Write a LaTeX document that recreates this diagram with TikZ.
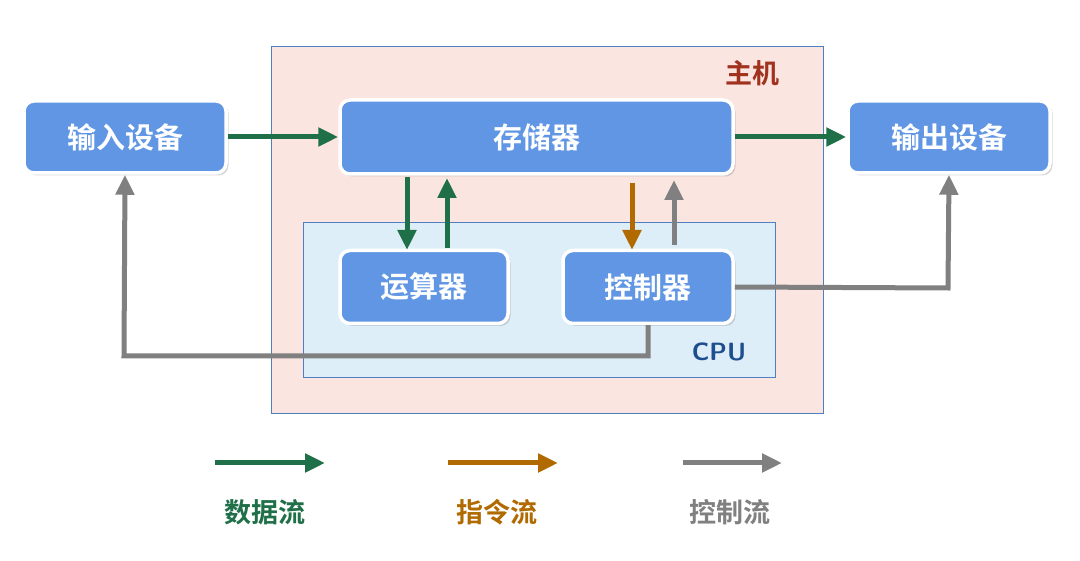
\documentclass[tikz,border=0pt]{standalone}
\usepackage{fontspec}
\newfontfamily\cjk{Noto Sans CJK SC Bold}
\usetikzlibrary{arrows.meta,shadows}
\definecolor{boxb}{HTML}{6096E3}
\definecolor{hostf}{HTML}{FBE5E0}
\definecolor{cpuf}{HTML}{DDEEF8}
\definecolor{frame}{HTML}{4F7FBF}
\definecolor{grn}{HTML}{1F6F48}
\definecolor{org}{HTML}{B06A00}
\definecolor{gry}{HTML}{808080}
\definecolor{hostt}{HTML}{A0321E}
\definecolor{cput}{HTML}{1F4E8F}
\begin{document}
\begin{tikzpicture}[x=1pt,y=-1pt,
  unit/.style={draw=white,line width=3.5pt,fill=boxb,rounded corners=10pt,drop shadow={shadow xshift=2.5pt,shadow yshift=-2.5pt,opacity=0.3},text=white,font=\cjk\fontsize{29}{32}\selectfont,inner sep=0pt},
  region/.style={draw=frame,line width=1.2pt},
  flow/.style={line width=5pt,-{Triangle[length=20pt,width=18pt]}},
  lab/.style={font=\cjk\fontsize{27}{30}\selectfont}]
\useasboundingbox (0,0) rectangle (1080,561);
\fill[white] (0,0) rectangle (1080,561);
\node[region,fill=hostf,minimum width=552pt,minimum height=367pt,anchor=north west] (host) at (271,46) {};
\node[region,fill=cpuf,minimum width=472pt,minimum height=155pt,anchor=north west] (cpu) at (303,222) {};
\node[lab,text=hostt] (hostl) at (752,73) {主机};
\node[font=\sffamily\bfseries\fontsize{25}{28}\selectfont,text=cput] (cpul) at (719,352) {CPU};
\node[unit,minimum width=202pt,minimum height=72pt] (in) at (125,137) {输入设备};
\node[unit,minimum width=393pt,minimum height=74pt] (mem) at (536.5,137) {存储器};
\node[unit,minimum width=202pt,minimum height=72pt] (out) at (949,137) {输出设备};
\node[unit,minimum width=168pt,minimum height=73pt] (alu) at (424,287) {运算器};
\node[unit,minimum width=170pt,minimum height=73pt] (ctl) at (648,287) {控制器};
\draw[flow,grn] (in.east) -- (mem.west);
\draw[flow,grn] (mem.east) -- (out.west);
\draw[flow,grn] (407,177) -- (407,250);
\draw[flow,grn] (447,248) -- (447,178);
\draw[flow,org] (632,183) -- (632,250);
\draw[flow,gry] (674,245) -- (674,180);
\draw[flow,gry] (ctl.east) -- (948,288) -- (out.south);
\draw[flow,gry] (ctl.south) -- (648,356) -- (124,356) -- (in.south);
\coordinate (g1) at (215,463); \coordinate (g2) at (325,463);
\coordinate (o1) at (448,463); \coordinate (o2) at (558,463);
\coordinate (y1) at (683,463); \coordinate (y2) at (782,463);
\draw[flow,grn] (g1) -- (g2);
\draw[flow,org] (o1) -- (o2);
\draw[flow,gry] (y1) -- (y2);
\node[lab,text=grn] (lg) at (265,512) {数据流};
\node[lab,text=org] (lo) at (497,512) {指令流};
\node[lab,text=gry] (ly) at (730,512) {控制流};
\end{tikzpicture}
\end{document}
